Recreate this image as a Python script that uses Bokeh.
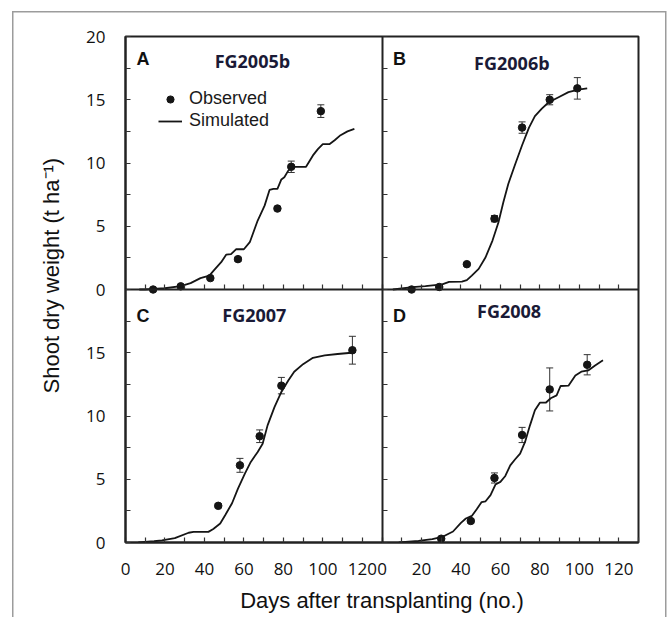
import math
from bokeh.plotting import figure
from bokeh.models import (Range1d, LinearAxis, FixedTicker, ColumnDataSource, Whisker, TeeHead,
                          Label, Legend, LegendItem, Title, CustomJSTickFormatter, InlineStyleSheet)
from bokeh.embed import file_html
from bokeh.resources import INLINE

# ---------------- data ----------------
panel_letters = ["A", "B", "C", "D"]
panel_names = ["FG2005b", "FG2006b", "FG2007", "FG2008"]

# observed (days, t/ha, +/- error)
obs_a_x = [14, 28, 43, 57, 77, 84, 99]
obs_a_y = [0.0, 0.25, 0.9, 2.4, 6.4, 9.7, 14.1]
obs_a_e = [0.0, 0.05, 0.1, 0.15, 0.15, 0.45, 0.5]

obs_b_x = [15, 29, 43, 57, 71, 85, 99]
obs_b_y = [0.0, 0.2, 2.0, 5.6, 12.8, 15.0, 15.9]
obs_b_e = [0.0, 0.05, 0.1, 0.25, 0.45, 0.4, 0.85]

obs_c_x = [47, 58, 68, 79, 115]
obs_c_y = [2.9, 6.1, 8.4, 12.4, 15.2]
obs_c_e = [0.15, 0.55, 0.5, 0.65, 1.1]

obs_d_x = [30, 45, 57, 71, 85, 104]
obs_d_y = [0.3, 1.7, 5.1, 8.5, 12.1, 14.05]
obs_d_e = [0.05, 0.15, 0.4, 0.6, 1.7, 0.8]

# simulated
sim_a_x = [7, 10, 20, 28, 33, 38, 42.5, 45, 48.5, 51, 53.5, 56, 60, 63, 67, 70.5, 73, 75, 77,
           79, 80.5, 82.5, 85, 87.5, 91.5, 95, 97.5, 100, 103.5, 106, 109, 112.5, 116]
sim_a_y = [0.0, 0.0, 0.1, 0.26, 0.5, 0.9, 1.1, 1.55, 2.16, 2.75, 2.8, 3.18, 3.18, 3.74, 5.45,
           6.63, 7.87, 7.95, 7.95, 8.7, 8.87, 9.4, 9.7, 9.7, 9.7, 10.6, 11.1, 11.5, 11.5, 11.8,
           12.2, 12.5, 12.7]

sim_b_x = [5.5, 10, 15.5, 22, 30.5, 34, 40.5, 43, 45.5, 49, 52.5, 56, 59, 61.5, 64, 67.5, 71,
           74.5, 77.5, 81, 84.5, 89.5, 94.5, 99.5, 104]
sim_b_y = [0.0, 0.08, 0.18, 0.26, 0.4, 0.6, 0.63, 0.74, 1.1, 1.63, 2.55, 3.87, 5.3, 6.9, 8.34,
           9.9, 11.4, 12.8, 13.7, 14.3, 14.8, 15.2, 15.6, 15.8, 15.9]

sim_c_x = [6.5, 14.5, 18.5, 25, 32, 34.5, 42, 44.5, 48, 50.5, 54, 57, 60.5, 63.5, 67, 69.5, 72,
           75.5, 79, 82.5, 85.5, 90, 95, 101, 107.5, 114.5]
sim_c_y = [0.0, 0.1, 0.16, 0.34, 0.77, 0.84, 0.84, 1.07, 1.5, 2.16, 3.1, 4.26, 5.45, 6.37, 7.16,
           7.8, 9.26, 10.7, 11.9, 12.8, 13.5, 14.1, 14.6, 14.8, 14.9, 15.0]

sim_d_x = [8.5, 18.5, 25.5, 30.5, 36, 40, 42.5, 45.5, 48, 50.5, 52.5, 55, 57.5, 60, 62.5, 65,
           67.5, 70, 72.5, 75, 77.5, 80, 83, 85.5, 88.5, 90.5, 94.5, 98, 101, 104.5, 108, 112]
sim_d_y = [0.0, 0.12, 0.26, 0.44, 0.87, 1.55, 1.9, 2.1, 2.63, 3.2, 3.26, 3.74, 4.58, 4.79, 5.26,
           6.1, 6.58, 7.03, 7.95, 9.26, 10.45, 11.05, 11.05, 11.4, 11.63, 12.37, 12.4, 13.2,
           13.5, 13.6, 14.0, 14.4]

x_ticks = [0, 20, 40, 60, 80, 100, 120]
x_minor = [10, 30, 50, 70, 90, 110, 130]
y_ticks_top = [0, 5, 10, 15, 20]
y_ticks_bottom = [0, 5, 10, 15]
y_minor = [2.5, 7.5, 12.5, 17.5]

X_SPAN = 130   # each panel shows 0..130 days
Y_SPAN = 20    # each panel shows 0..20 t/ha

# ---------------- figure ----------------
INK = "#151515"
TICK_FONT = "Open Sans"
TXT_FONT = "Liberation Sans"

frame_css = InlineStyleSheet(css="""
:host {
  background:
    linear-gradient(#9c9c9c, #9c9c9c) 12px 11px / 1.5px 606px no-repeat,
    linear-gradient(#9c9c9c, #9c9c9c) 12px 11px / 654px 1.5px no-repeat,
    linear-gradient(#9c9c9c, #9c9c9c) 664.5px 11px / 1.5px 606px no-repeat,
    white;
}
""")

p = figure(width=667, height=617, output_backend="svg", toolbar_location=None,
           x_axis_type=None, y_axis_type=None,
           x_range=Range1d(0, 2 * X_SPAN), y_range=Range1d(0, 2 * Y_SPAN),
           min_border_left=125, min_border_right=29, min_border_top=36, min_border_bottom=75)
p.extra_x_ranges = {"right": Range1d(-X_SPAN, X_SPAN)}
p.extra_y_ranges = {"top": Range1d(-Y_SPAN, Y_SPAN)}
p.outline_line_color = "#222222"
p.outline_line_width = 2
p.background_fill_color = "white"
p.border_fill_alpha = 0
p.stylesheets = [frame_css]

panels = [
    ("default", "top", obs_a_x, obs_a_y, obs_a_e, sim_a_x, sim_a_y),
    ("right", "top", obs_b_x, obs_b_y, obs_b_e, sim_b_x, sim_b_y),
    ("default", "default", obs_c_x, obs_c_y, obs_c_e, sim_c_x, sim_c_y),
    ("right", "default", obs_d_x, obs_d_y, obs_d_e, sim_d_x, sim_d_y),
]


def style_axis(ax, show_labels):
    ax.major_tick_in = 5
    ax.major_tick_out = 0
    ax.minor_tick_in = 5
    ax.minor_tick_out = 0
    ax.major_tick_line_color = "#333333"
    ax.minor_tick_line_color = "#333333"
    ax.major_tick_line_width = 1.2
    ax.minor_tick_line_width = 1.2
    ax.axis_line_color = "#222222"
    ax.axis_line_width = 2
    ax.major_label_text_font = TICK_FONT
    ax.major_label_text_font_size = "17px"
    ax.major_label_text_color = "#111111" if show_labels else None


# outer left axis: lower panel ticks, then upper panel ticks (shown as 0..20 again)
left_ax = LinearAxis(
    ticker=FixedTicker(ticks=y_ticks_bottom + [t + Y_SPAN for t in y_ticks_top],
                       minor_ticks=y_minor + [m + Y_SPAN for m in y_minor]),
    formatter=CustomJSTickFormatter(args=dict(span=Y_SPAN),
                                    code="return String(tick >= span ? tick - span : tick)"))
style_axis(left_ax, True)
left_ax.major_label_standoff = 20
p.add_layout(left_ax, "left")

# outer bottom axis: left panel ticks, then right panel ticks (shown as 0..120 again)
bottom_ax = LinearAxis(
    ticker=FixedTicker(ticks=x_ticks + [t + X_SPAN for t in x_ticks],
                       minor_ticks=x_minor + [m + X_SPAN for m in x_minor]),
    formatter=CustomJSTickFormatter(args=dict(span=X_SPAN),
                                    code="return String(tick >= span ? tick - span : tick)"),
    axis_label="Days after transplanting (no.)")
style_axis(bottom_ax, True)
bottom_ax.major_label_standoff = 20
bottom_ax.axis_label_text_font = TXT_FONT
bottom_ax.axis_label_text_font_size = "22px"
bottom_ax.axis_label_text_font_style = "normal"
bottom_ax.axis_label_text_color = "#111111"
bottom_ax.axis_label_standoff = 10
p.add_layout(bottom_ax, "below")

# inner dividing axes (ticks only)
ax = LinearAxis(x_range_name="right", y_range_name="top", fixed_location=0,
                ticker=FixedTicker(ticks=y_ticks_top, minor_ticks=y_minor), bounds=(0, Y_SPAN))
style_axis(ax, False)
p.add_layout(ax, "left")
ax = LinearAxis(x_range_name="right", y_range_name="default", fixed_location=0,
                ticker=FixedTicker(ticks=y_ticks_bottom, minor_ticks=y_minor), bounds=(0, Y_SPAN))
style_axis(ax, False)
p.add_layout(ax, "left")
for xr in ["default", "right"]:
    ax = LinearAxis(x_range_name=xr, y_range_name="top", fixed_location=0,
                    ticker=FixedTicker(ticks=x_ticks, minor_ticks=x_minor), bounds=(0, X_SPAN))
    style_axis(ax, False)
    p.add_layout(ax, "below")

# y title (starts a little above the frame bottom, as in the original)
p.add_layout(Title(text="Shoot dry weight (t ha\u207b\u00b9)", align="left",
                   text_font=TXT_FONT, text_font_size="22px", text_font_style="normal",
                   text_color="#111111", standoff=40, offset=149), "left")

renderers = []
for xr, yr, ox, oy, oe, sx, sy in panels:
    ln = p.line(sx, sy, x_range_name=xr, y_range_name=yr, line_color=INK, line_width=1.8)
    src = ColumnDataSource(dict(x=ox, y=oy,
                                lower=[v - e for v, e in zip(oy, oe)],
                                upper=[v + e for v, e in zip(oy, oe)]))
    wh = Whisker(source=src, base="x", upper="upper", lower="lower", dimension="height",
                 x_range_name=xr, y_range_name=yr, line_color="#333333", line_width=1,
                 upper_head=TeeHead(size=7, line_color="#333333", line_width=1),
                 lower_head=TeeHead(size=7, line_color="#333333", line_width=1))
    p.add_layout(wh)
    pts = p.scatter("x", "y", source=src, x_range_name=xr, y_range_name=yr,
                    size=7.5, fill_color=INK, line_color=INK)
    renderers.append((pts, ln))

# panel letters and titles
letter_pos = [("default", "top", 18.2), ("right", "top", 18.2),
              ("default", "default", 17.9), ("right", "default", 17.9)]
title_pos = [(64.3, 18.1), (65.8, 17.9), (65.3, 18.0), (64.4, 18.3)]
for (xr, yr, ly), (tx, ty), letter, name in zip(letter_pos, title_pos, panel_letters, panel_names):
    p.add_layout(Label(x=5.6, y=ly, x_range_name=xr, y_range_name=yr, text=letter,
                       text_font=TXT_FONT, text_font_style="bold", text_font_size="18px",
                       text_color="#111111", text_align="left", text_baseline="alphabetic"))
    p.add_layout(Label(x=tx, y=ty, x_range_name=xr, y_range_name=yr, text=name,
                       text_font=TICK_FONT, text_font_style="bold", text_font_size="18px",
                       text_color="#1a1a36", text_align="center", text_baseline="middle"))

# legend (panel A)
legend = Legend(items=[LegendItem(label="Observed", renderers=[renderers[0][0]]),
                       LegendItem(label="Simulated", renderers=[renderers[0][1]])],
                location=(33, 411), padding=0, margin=0, spacing=1,
                glyph_width=24, glyph_height=18, label_height=18, label_standoff=7,
                label_text_font=TXT_FONT, label_text_font_size="18px",
                label_text_color="#1a1a1a", border_line_color=None,
                background_fill_alpha=0)
p.add_layout(legend)

open("out.html", "w").write(file_html(p, INLINE))
